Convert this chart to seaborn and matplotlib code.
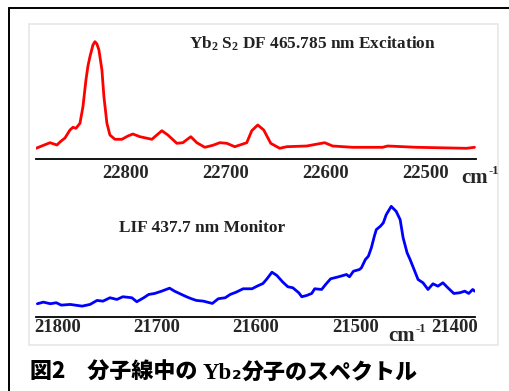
import numpy as np
import pandas as pd
import matplotlib
matplotlib.use("Agg")
import matplotlib.pyplot as plt
import seaborn as sns
from matplotlib.lines import Line2D
from matplotlib.patches import Rectangle

# DF excitation spectrum (red), wavenumber in cm-1, intensity in arb. units
df_wn = [22890, 22876, 22869, 22866, 22861, 22856, 22853, 22850, 22846, 22843,
         22840, 22838, 22836, 22833, 22831, 22829, 22827, 22824, 22822, 22819,
         22816, 22811, 22804, 22798, 22793, 22786, 22774, 22764, 22758, 22749,
         22743, 22735, 22729, 22721, 22713, 22706, 22699, 22691, 22679, 22674,
         22668, 22662, 22655, 22646, 22639, 22619, 22601, 22593, 22573, 22543,
         22538, 22509, 22459, 22451]
df_int = [0.7, 6.3, 4, 7, 11, 19, 21.7, 20.7, 25.7, 42.3,
          69, 83, 92.3, 104, 107.3, 105, 99, 79, 52.3, 25.7,
          14, 9.7, 9.7, 13, 15, 12.3, 9.7, 18.3, 14, 5.7,
          6.3, 12.3, 6.3, 1.7, 3.7, 6.3, 5.7, 2.3, 6.3, 18.3,
          24, 19, 5.7, 0.7, 2.3, 3, 6.3, 3, 1.7, 1.7,
          3, 1.7, 0.7, 1.7]

# LIF spectrum (blue)
lif_wn = [21820, 21814, 21807, 21801, 21796, 21787, 21775, 21767, 21760, 21754,
          21747, 21740, 21734, 21725, 21720, 21713, 21708, 21702, 21695, 21687,
          21682, 21675, 21670, 21665, 21660, 21653, 21644, 21638, 21631, 21626,
          21620, 21613, 21604, 21599, 21593, 21589, 21584, 21579, 21573, 21568,
          21563, 21557, 21554, 21549, 21544, 21541, 21534, 21530, 21525, 21517,
          21509, 21506, 21502, 21496, 21494, 21490, 21487, 21484, 21481, 21479,
          21475, 21472, 21469, 21464, 21459, 21455, 21452, 21448, 21445, 21441,
          21437, 21432, 21427, 21422, 21417, 21412, 21407, 21401, 21395, 21390,
          21386, 21382, 21380]
lif_int = [12.7, 14.3, 12.7, 13.7, 11.3, 12, 10.3, 12, 16, 15.3,
           18.7, 17, 19.7, 18.7, 14.7, 18.7, 22, 23, 25.3, 28.3,
           25.3, 22, 19.7, 17.7, 16, 15.3, 13, 17.7, 18.7, 22,
           24.3, 27.7, 27.7, 30.3, 33, 37.7, 44.3, 41, 34.3, 29.7,
           28.7, 23.7, 19.7, 21, 23, 27.7, 27, 32, 37.7, 39.7,
           42, 39.7, 45.3, 47, 48.7, 57, 60.3, 68.7, 80.3, 87,
           90.3, 93.7, 102, 110.3, 105.3, 97, 78.7, 63.7, 57, 47,
           37, 33.7, 27, 32.7, 30.3, 33.7, 28.7, 23, 23.7, 25.3,
           23, 27, 25.3]

top_ticks = [22800, 22700, 22600, 22500]
bot_ticks = [21800, 21700, 21600, 21500, 21400]

sns.set_style("white")
plt.rcParams["font.family"] = ["Liberation Serif", "DejaVu Serif"]
plt.rcParams["font.weight"] = "bold"
plt.rcParams["mathtext.fontset"] = "custom"
plt.rcParams["mathtext.rm"] = "Liberation Serif:bold"
plt.rcParams["mathtext.it"] = "Liberation Serif:bold"
plt.rcParams["mathtext.bf"] = "Liberation Serif:bold"

W, H = 509, 391
fig = plt.figure(figsize=(W / 100, H / 100), dpi=100)


def fx(px):
    return px / W


def fy(py):
    return 1 - py / H


# frames
fig.add_artist(Rectangle((fx(29), fy(345)), fx(497.7) - fx(29), fy(23.5) - fy(345),
                         transform=fig.transFigure, fill=False, ec="#e6e6e6", lw=1.2))
fig.add_artist(Line2D([fx(9), fx(9)], [fy(8), 0], transform=fig.transFigure, color="black", lw=1.4))
fig.add_artist(Line2D([fx(9), 1], [fy(8), fy(8)], transform=fig.transFigure, color="black", lw=1.4))

ax1 = fig.add_axes([fx(36), fy(159), fx(476) - fx(36), fy(30) - fy(159)])
ax2 = fig.add_axes([fx(36), fy(316.7), fx(475) - fx(36), fy(195) - fy(316.7)])

top = pd.DataFrame({"wn": df_wn, "I": df_int})
bot = pd.DataFrame({"wn": lif_wn, "I": lif_int})
sns.lineplot(data=top, x="wn", y="I", ax=ax1, color="#ff0000", lw=2, estimator=None)
sns.lineplot(data=bot, x="wn", y="I", ax=ax2, color="#0000ff", lw=2, estimator=None)

for ax, ticks, pad in [(ax1, top_ticks, 4.0), (ax2, bot_ticks, 2.0)]:
    ax.patch.set_alpha(0)
    for s in ["top", "left", "right"]:
        ax.spines[s].set_visible(False)
    ax.spines["bottom"].set_linewidth(1.3)
    ax.spines["bottom"].set_color("black")
    ax.set_yticks([])
    ax.set_xticks(ticks)
    ax.set_xticks([t + 50 for t in ticks] + [ticks[-1] - 50], minor=True)
    ax.tick_params(axis="x", which="major", direction="in", length=6.5, width=1.2,
                   color="black", labelsize=13.5, pad=pad)
    ax.tick_params(axis="x", which="minor", direction="in", length=4, width=1.2, color="black")
    ax.set_xlabel("")
    ax.set_ylabel("")
    for lab in ax.get_xticklabels():
        lab.set_fontweight("bold")

# limits after the ticks, so that set_xticks does not widen them
ax1.set_xlim(22890, 22449.5)
ax1.set_ylim(-10, 119)
ax2.set_xlim(21821.4, 21379.7)
ax2.set_ylim(-0.3, 121.7)

fig.text(fx(312.5), fy(49), r"Yb$_2$ S$_2$ DF 465.785 nm Excitation", ha="center",
         va="baseline", fontsize=12.4, fontweight="bold", color="#222222")
fig.text(fx(202), fy(231.5), "LIF 437.7 nm Monitor", ha="center", va="baseline",
         fontsize=12.5, fontweight="bold", color="#222222")
fig.text(fx(461.5), fy(182.7), "cm", ha="left", va="baseline", fontsize=15, fontweight="bold")
fig.text(fx(488.5), fy(174), "-1", ha="left", va="baseline", fontsize=9, fontweight="bold")
fig.text(fx(388), fy(341), "cm", ha="left", va="baseline", fontsize=15, fontweight="bold")
fig.text(fx(415), fy(332), "-1", ha="left", va="baseline", fontsize=9, fontweight="bold")

# caption, pieces chained left to right
renderer = fig.canvas.get_renderer()
jp = ["Noto Sans CJK JP", "DejaVu Sans"]
parts = [("図2　分子線中の ", dict(family=jp, fontsize=15.8, fontweight="black")),
         ("Yb", dict(family=["Liberation Serif"], fontsize=16.5, fontweight="bold")),
         ("₂", dict(family=jp, fontsize=15.8, fontweight="black")),
         ("分子のスペクトル", dict(family=jp, fontsize=15.8, fontweight="black"))]
x = fx(30.5)
for s, kw in parts:
    t = fig.text(x, fy(379), s, ha="left", va="baseline", color="black", **kw)
    bb = t.get_window_extent(renderer=renderer)
    x = bb.x1 / fig.bbox.width

fig.savefig("out.png", dpi=100)
